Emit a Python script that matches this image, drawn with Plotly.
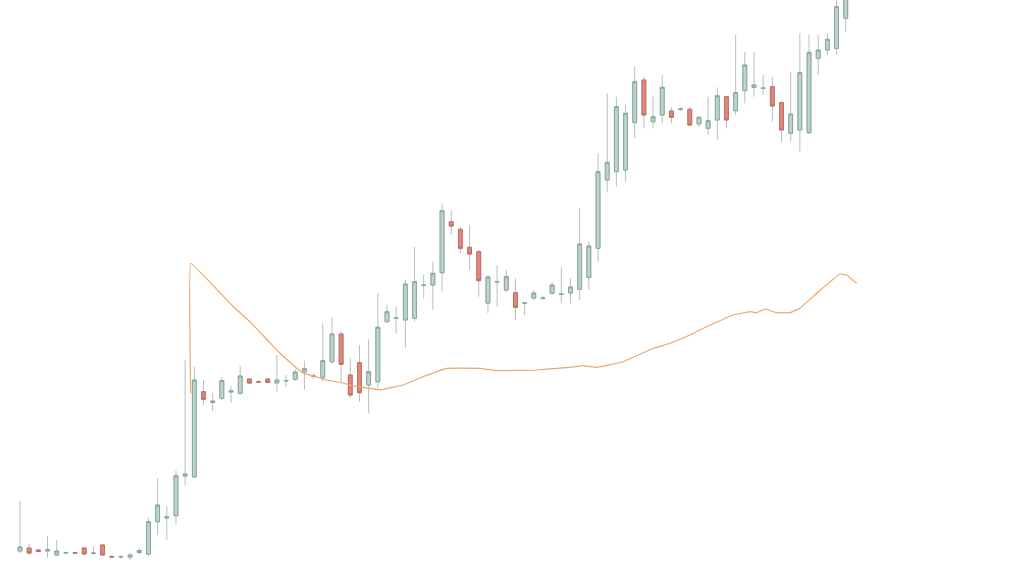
import plotly.graph_objects as go

# Candle index (time step) and OHLC values (arbitrary price units)
idx = list(range(91))
open_ = [4.9, 5.2, 5.0, 4.9, 4.5, 4.7, 4.75, 5.2, 4.65, 5.5,
         4.35, 4.3, 4.3, 4.75, 4.6, 7.83, 8.2, 8.43, 12.4, 12.3,
         20.83, 19.75, 20.17, 20.8, 20.67, 22.1, 21.85, 22.1, 21.7, 21.9,
         22.07, 22.8, 22.35, 22.27, 23.83, 26.6, 22.5, 23.73, 21.5, 21.83,
         27.83, 28.15, 28.0, 28.17, 31.45, 31.5, 32.73, 37.83, 37.07, 35.27,
         34.83, 29.7, 31.8, 31.0, 30.73, 29.67, 30.2, 30.15, 30.67, 30.55,
         30.7, 31.07, 32.27, 35.17, 42.0, 42.83, 43.0, 47.73, 52.0, 47.83,
         48.5, 48.9, 49.05, 49.07, 47.6, 47.17, 48.0, 50.33, 48.93, 50.93,
         51.27, 51.15, 51.33, 49.73, 46.67, 47.0, 46.73, 54.17, 55.0, 55.17,
         58.17]
high = [9.9, 5.6, 5.1, 6.4, 6.0, 4.8, 4.8, 5.3, 5.3, 5.6,
        4.5, 4.5, 4.7, 5.2, 8.2, 12.17, 9.4, 12.93, 24.0, 23.3,
        22.0, 20.7, 22.3, 21.4, 23.4, 22.2, 22.0, 22.2, 24.5, 22.5,
        23.1, 23.93, 22.7, 27.67, 28.23, 26.93, 24.2, 25.5, 26.07, 30.67,
        29.5, 29.33, 32.0, 35.33, 32.5, 33.83, 39.67, 38.93, 37.3, 37.5,
        35.0, 32.5, 33.5, 33.0, 32.17, 29.8, 31.0, 30.4, 31.8, 33.27,
        32.17, 39.17, 35.83, 44.67, 50.67, 50.33, 49.5, 53.33, 52.33, 50.33,
        52.5, 49.3, 49.3, 49.3, 48.4, 50.33, 51.27, 50.4, 56.5, 54.83,
        54.83, 52.5, 52.33, 49.9, 52.83, 56.67, 56.5, 56.5, 56.67, 60.0,
        61.0]
low = [4.7, 4.5, 4.8, 4.2, 4.4, 4.6, 4.6, 4.5, 4.5, 4.4,
       4.2, 4.1, 4.0, 4.6, 4.4, 6.5, 6.0, 7.5, 11.5, 12.2,
       19.5, 18.9, 20.0, 19.7, 20.5, 21.6, 21.7, 21.65, 20.83, 21.33,
       21.9, 21.0, 22.1, 21.83, 23.6, 21.67, 20.2, 19.83, 18.67, 21.17,
       27.7, 26.67, 25.17, 27.83, 30.17, 29.0, 30.83, 36.5, 34.67, 33.0,
       30.33, 28.7, 29.33, 30.8, 28.0, 28.5, 30.0, 30.0, 30.5, 29.67,
       29.67, 30.0, 31.0, 33.83, 40.83, 41.33, 41.83, 46.17, 47.17, 47.17,
       47.67, 47.67, 48.9, 47.4, 47.3, 46.5, 46.0, 47.17, 48.5, 49.67,
       50.33, 50.5, 47.83, 45.83, 45.83, 44.83, 46.6, 52.5, 54.5, 54.5,
       56.83]
close = [5.3, 4.7, 4.85, 5.05, 4.9, 4.75, 4.7, 4.6, 4.7, 4.5,
         4.3, 4.35, 4.5, 4.95, 7.83, 9.5, 8.3, 12.43, 12.6, 22.0,
         20.07, 19.9, 21.93, 20.9, 22.4, 21.7, 21.8, 21.77, 22.0, 21.95,
         22.8, 23.13, 22.4, 23.93, 26.6, 23.57, 20.5, 20.73, 22.83, 27.27,
         28.83, 28.2, 31.6, 31.83, 31.5, 32.67, 38.93, 37.4, 35.17, 34.6,
         31.93, 32.3, 31.85, 32.33, 29.27, 29.7, 30.7, 30.2, 31.5, 30.6,
         31.3, 35.6, 35.4, 42.83, 43.77, 49.33, 48.67, 51.83, 48.5, 48.33,
         51.27, 48.27, 49.1, 47.5, 48.27, 47.93, 50.43, 48.0, 50.73, 53.5,
         51.5, 51.2, 49.4, 47.0, 48.6, 52.73, 54.77, 55.0, 56.07, 59.33,
         60.5]

# Orange moving-average-like line (x in candle index units, y in price units)
ma_x = [18.6, 18.6, 23.25, 25.07, 28.34, 30.16, 30.84, 32.7, 33.43, 35.2,
        36.7, 38.15, 39.24, 41.74, 43.92, 46.51, 50.14, 51.96, 56.32, 59.95,
        61.4, 62.86, 65.76, 69.02, 70.84, 73.02, 75.2, 77.74, 79.56, 80.29,
        81.2, 82.47, 83.92, 85.01, 86.83, 89.37, 90.1, 91.19]
ma_y = [20.67, 33.67, 29.33, 27.83, 24.67, 23.17, 22.7, 22.2, 22.0, 21.7,
        21.33, 21.17, 21.0, 21.5, 22.33, 23.17, 23.17, 22.93, 23.0, 23.27,
        23.43, 23.27, 23.83, 25.17, 25.67, 26.5, 27.5, 28.5, 28.83, 28.73,
        29.1, 28.73, 28.73, 29.17, 30.67, 32.6, 32.5, 31.67]

# body-only extents (wicks are drawn by the first, light-grey trace)
body_hi = [max(o, c) for o, c in zip(open_, close)]
body_lo = [min(o, c) for o, c in zip(open_, close)]

wick = dict(line=dict(color="#b9bfbd", width=1), fillcolor="rgba(0,0,0,0)")

fig = go.Figure()
fig.add_trace(go.Candlestick(
    x=idx, open=open_, high=high, low=low, close=close,
    increasing=wick, decreasing=wick,
    whiskerwidth=0, showlegend=False, hoverinfo="skip",
))
fig.add_trace(go.Candlestick(
    x=idx, open=open_, high=body_hi, low=body_lo, close=close,
    increasing=dict(line=dict(color="#86a898", width=1), fillcolor="#bcd4c9"),
    decreasing=dict(line=dict(color="#c46a60", width=1), fillcolor="#dc8a7e"),
    whiskerwidth=0, showlegend=False,
))
fig.add_trace(go.Scatter(
    x=ma_x, y=ma_y, mode="lines",
    line=dict(color="#eba66c", width=1.2, shape="spline", smoothing=0.15),
    showlegend=False, hoverinfo="skip",
))

fig.update_layout(
    width=1024, height=576,
    margin=dict(l=0, r=0, t=0, b=0),
    paper_bgcolor="white", plot_bgcolor="white",
    boxgap=0.4, boxmode="overlay",
    showlegend=False,
    xaxis=dict(range=[-2.18, 109.43], visible=False, rangeslider=dict(visible=False),
               showgrid=False, zeroline=False),
    yaxis=dict(range=[2.4, 60], visible=False, showgrid=False, zeroline=False),
)

fig.write_html(
    "out.html",
    config={"displayModeBar": False},
    post_script="document.body.style.margin='0';document.body.style.overflow='hidden';",
)
